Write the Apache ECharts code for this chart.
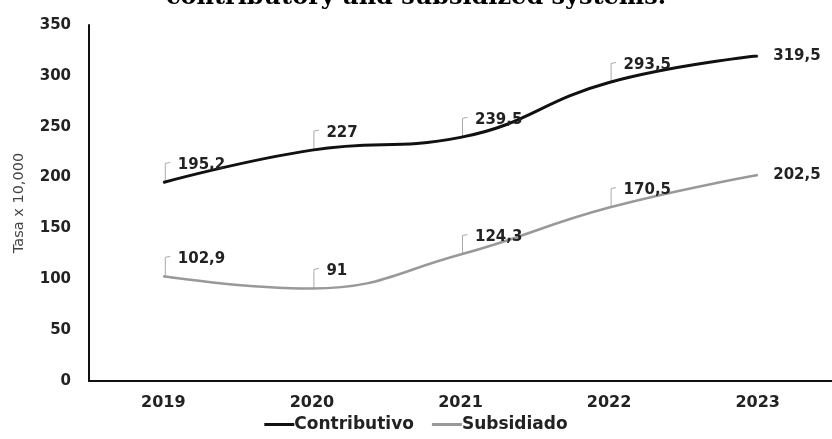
<!DOCTYPE html>
<html>
<head>
<meta charset="utf-8">
<script src="https://cdn.jsdelivr.net/npm/echarts@6/dist/echarts.min.js"></script>
<style>html,body{margin:0;padding:0;background:#fff}#c{width:832px;height:439px}</style>
</head>
<body>
<div id="c"></div>
<script>
const titleText = 'contributory and subsidized systems.';
const years = ['2019', '2020', '2021', '2022', '2023'];
const contributivo = [195.2, 227, 239.5, 293.5, 319.5];
const subsidiado = [102.9, 91, 124.3, 170.5, 202.5];
const yTicks = [0, 50, 100, 150, 200, 250, 300, 350];

const font = 'DejaVu Sans, Liberation Sans, Arial, sans-serif';
const fmt = p => String(p.value).replace('.', ',');

function mkSeries(name, data, color, width) {
  return {
    name: name, type: 'line', data: data, smooth: 0.45,
    symbol: 'circle', symbolSize: 1, showSymbol: true, z: 3,
    lineStyle: { color: color, width: width },
    itemStyle: { color: color },
    label: { show: true, position: 'right', distance: 8, formatter: fmt,
      fontFamily: font, fontWeight: 'bold', fontSize: 15, color: '#222' },
    labelLayout: function (p) {
      if (p.dataIndex === data.length - 1) return { dx: 7, dy: 0 };
      return { dx: 6, dy: -17 };
    }
  };
}

// small callout brackets, positioned through the axes' own coordinate system
function mkLeaders(data) {
  return {
    type: 'custom', silent: true, z: 2,
    data: data.map((v, i) => [i, v]),
    renderItem: function (params, api) {
      const i = api.value(0);
      if (i === data.length - 1) return null;
      const pt = api.coord([i, api.value(1)]);
      return {
        type: 'polyline',
        shape: { points: [[pt[0] + 2, pt[1]], [pt[0] + 2, pt[1] - 19], [pt[0] + 7, pt[1] - 20]] },
        style: { stroke: '#aaa', lineWidth: 1, fill: null }
      };
    }
  };
}

const chart = echarts.init(document.getElementById('c'));
chart.setOption({
  animation: false,
  title: { text: titleText, left: 'center', top: -19,
    textStyle: { fontFamily: 'DejaVu Serif, Liberation Serif, serif', fontWeight: 'bold', fontSize: 24, color: '#000' } },
  grid: { left: 89, top: 25, bottom: 58, right: -9 },
  legend: { bottom: 1, left: 'center', itemWidth: 30, itemHeight: 3, itemGap: 18,
    icon: 'rect',
    textStyle: { fontFamily: font, fontWeight: 'bold', fontSize: 17, color: '#222', padding: [0, 0, 0, -5] },
    data: ['Contributivo', 'Subsidiado'] },
  xAxis: { type: 'category', data: years, boundaryGap: true,
    axisLine: { lineStyle: { color: '#111', width: 2 } },
    axisTick: { show: false },
    axisLabel: { fontFamily: font, fontWeight: 'bold', fontSize: 16, color: '#222', margin: 14 } },
  yAxis: { type: 'value', min: 0, max: yTicks[yTicks.length - 1], interval: 50,
    name: 'Tasa x 10,000', nameLocation: 'middle', nameGap: 62, nameRotate: 90,
    nameTextStyle: { fontFamily: font, fontSize: 14.5, color: '#444' },
    axisLine: { show: true, lineStyle: { color: '#111', width: 2 } },
    axisTick: { show: false }, splitLine: { show: false },
    axisLabel: { fontFamily: font, fontWeight: 'bold', fontSize: 15, color: '#222', margin: 18 } },
  series: [
    mkSeries('Contributivo', contributivo, '#111', 3),
    mkSeries('Subsidiado', subsidiado, '#999', 2.5),
    mkLeaders(contributivo),
    mkLeaders(subsidiado)
  ]
});
</script>
</body>
</html>
